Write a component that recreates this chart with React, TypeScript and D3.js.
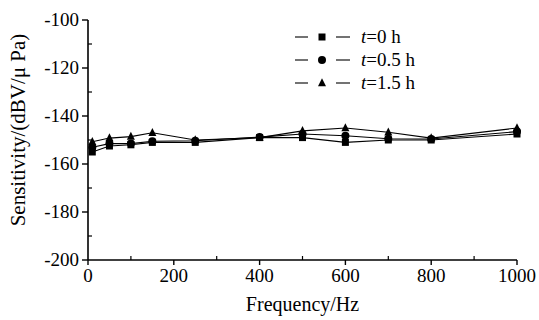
import React from 'react';
import * as d3 from 'd3';

const freqs = [10, 50, 100, 150, 250, 400, 500, 600, 700, 800, 1000];
const t0 = [-155, -152.5, -152, -151, -151, -149, -149, -151, -150, -150, -147.5];
const t05 = [-153, -151.5, -151.5, -150.5, -150.3, -148.8, -147.5, -148.2, -149.5, -149.6, -146.5];
const t15 = [-150.7, -149.2, -148.6, -147, -150, -149, -146.2, -145, -146.8, -149.2, -145];

const xTicks = [0, 200, 400, 600, 800, 1000];
const xMinor = [100, 300, 500, 700, 900];
const yTicks = [-100, -120, -140, -160, -180, -200];
const yMinor = [-110, -130, -150, -170, -190];

const seriesList = [
  { label: '=0 h', values: t0, marker: 'square' },
  { label: '=0.5 h', values: t05, marker: 'circle' },
  { label: '=1.5 h', values: t15, marker: 'triangle' },
];

const width = 539;
const height = 320;
const margin = { top: 20, right: 22, bottom: 60, left: 88 };
const font = 'Liberation Serif';

const Marker = ({ type, x, y }: { type: string; x: number; y: number }) => {
  if (type === 'square') return <rect x={x - 3.5} y={y - 3.5} width={7} height={7} fill="#000" />;
  if (type === 'circle') return <circle cx={x} cy={y} r={4} fill="#000" />;
  const s = 8;
  return <path d={`M${x},${y - s * 0.6}L${x + s / 2},${y + s * 0.4}L${x - s / 2},${y + s * 0.4}Z`} fill="#000" />;
};

export default function App() {
  const x = d3.scaleLinear().domain([0, 1000]).range([margin.left, width - margin.right]);
  const y = d3.scaleLinear().domain([-200, -100]).range([height - margin.bottom, margin.top]);
  const y0 = y(-200);
  const x0 = x(0);

  const line = d3
    .line<number>()
    .x((_, i) => x(freqs[i]))
    .y((d) => y(d));

  return (
    <svg
      width={width}
      height={height}
      style={{ position: 'absolute', left: 0, top: 0, background: '#fff' }}
    >
      <g fontFamily={font}>
        {/* axes */}
        <line x1={x0} x2={x0} y1={y(-100)} y2={y0} stroke="#000" strokeWidth={1.6} />
        <line x1={x0} x2={x(1000)} y1={y0} y2={y0} stroke="#000" strokeWidth={1.6} />
        {yTicks.map((t) => (
          <g key={t}>
            <line x1={x0 - 6} x2={x0} y1={y(t)} y2={y(t)} stroke="#000" strokeWidth={1.4} />
            <text x={x0 - 9} y={y(t)} dy="0.34em" textAnchor="end" fontSize={19} fontFamily={font}>
              {t}
            </text>
          </g>
        ))}
        {yMinor.map((t) => (
          <line key={t} x1={x0} x2={x0 + 4} y1={y(t)} y2={y(t)} stroke="#000" strokeWidth={1.2} />
        ))}
        {xTicks.map((t) => (
          <g key={t}>
            <line x1={x(t)} x2={x(t)} y1={y0} y2={y0 + 5} stroke="#000" strokeWidth={1.4} />
            <text x={x(t)} y={y0 + 22} textAnchor="middle" fontSize={19} fontFamily={font}>
              {t}
            </text>
          </g>
        ))}
        {xMinor.map((t) => (
          <line key={t} x1={x(t)} x2={x(t)} y1={y0} y2={y0 - 4} stroke="#000" strokeWidth={1.2} />
        ))}
        <text x={(x0 + x(1000)) / 2} y={311} textAnchor="middle" fontSize={20} fontFamily={font}>
          Frequency/Hz
        </text>
        <text transform={`translate(25,130) rotate(-90)`} textAnchor="middle" fontSize={21} fontFamily={font}>
          Sensitivity/(dBV/μ Pa)
        </text>

        {/* series */}
        {seriesList.map((s) => (
          <g key={s.label}>
            <path d={line(s.values) || ''} fill="none" stroke="#000" strokeWidth={1.1} />
            {s.values.map((v, i) => (
              <Marker key={i} type={s.marker} x={x(freqs[i])} y={y(v)} />
            ))}
          </g>
        ))}

        {/* legend */}
        {seriesList.map((s, i) => {
          const ly = 37 + i * 23;
          return (
            <g key={s.label}>
              <line x1={295} x2={308} y1={ly} y2={ly} stroke="#000" strokeWidth={1.1} />
              <line x1={336} x2={350} y1={ly} y2={ly} stroke="#000" strokeWidth={1.1} />
              <Marker type={s.marker} x={322} y={ly} />
              <text x={361} y={ly} dy="0.34em" fontSize={19} fontFamily={font}>
                <tspan fontStyle="italic">t</tspan>
                {s.label}
              </text>
            </g>
          );
        })}
      </g>
    </svg>
  );
}
